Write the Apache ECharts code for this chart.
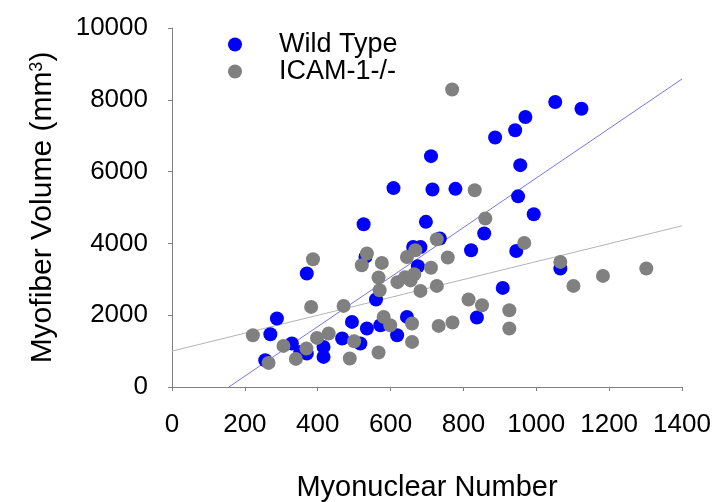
<!DOCTYPE html>
<html>
<head>
<meta charset="utf-8">
<script src="https://cdn.jsdelivr.net/npm/echarts@6/dist/echarts.min.js"></script>
<style>
  html, body { margin: 0; padding: 0; background: #fff; }
  #chart { width: 715px; height: 502px; }
</style>
</head>
<body>
<div id="chart"></div>
<script>
// values: [myonuclear number, myofiber volume]
const wildType = [
  [1052, 7940], [1124, 7750], [970, 7520], [942, 7150], [887, 6950],
  [711, 6430], [956, 6180], [608, 5540], [715, 5500], [778, 5520],
  [950, 5310], [993, 4810], [697, 4600], [526, 4535], [857, 4275],
  [735, 4135], [821, 3810], [945, 3790], [662, 3900], [682, 3900],
  [675, 3365], [531, 3624], [1066, 3300], [370, 3162], [908, 2760],
  [560, 2437], [837, 1936], [645, 1953], [288, 1908], [494, 1813],
  [572, 1721], [535, 1630], [270, 1471], [618, 1443], [467, 1351],
  [329, 1212], [517, 1212], [416, 1117], [352, 978], [370, 933],
  [416, 838], [256, 747]
];
const icamKnockout = [
  [645, 3620], [668, 3810], [711, 3320], [576, 3457], [567, 3050],
  [521, 3393], [535, 3718], [570, 2696], [619, 2920], [640, 3060],
  [655, 2970], [665, 3140], [682, 2677], [727, 2816], [757, 3607],
  [727, 4117], [831, 5482], [860, 4694], [1066, 3485], [1102, 2816],
  [1183, 3095], [1302, 3301], [814, 2437], [851, 2278], [926, 2139],
  [926, 1630], [732, 1702], [770, 1797], [659, 1769], [599, 1721],
  [581, 1953], [659, 1256], [567, 961], [488, 794], [500, 1276],
  [471, 2259], [430, 1490], [398, 1368], [369, 1072], [340, 783],
  [306, 1145], [265, 671], [222, 1443], [382, 2231], [387, 3560],
  [769, 8287], [967, 4014]
];
// regression line end points
const wildFit = [[156, 0], [1400, 8580]];
const icamFit = [[0, 1000], [1400, 4490]];

const seriesNames = ['Wild Type', 'ICAM-1-/-'];

const chart = echarts.init(document.getElementById('chart'));
const font = 'Liberation Sans, Arial, sans-serif';

const option = {
  animation: false,
  grid: { left: 172, right: 33, top: 28, bottom: 115, outerBoundsMode: 'none', containLabel: false },
  legend: {
    orient: 'vertical',
    left: 228,
    top: 31,
    padding: 0,
    itemGap: 0,
    itemWidth: 14,
    itemHeight: 14,
    icon: 'circle',
    data: seriesNames,
    textStyle: { fontFamily: font, fontSize: 27, color: '#000', padding: [0, 0, 0, 32], lineHeight: 24 }
  },
  xAxis: {
    type: 'value',
    min: 0,
    max: 1400,
    interval: 200,
    name: 'Myonuclear Number',
    nameLocation: 'middle',
    nameGap: 86,
    nameTextStyle: { fontFamily: font, fontSize: 29, color: '#000' },
    axisLine: { lineStyle: { color: '#808080', width: 1 } },
    axisTick: { length: 4, lineStyle: { color: '#808080' } },
    axisLabel: { fontFamily: font, fontSize: 26, color: '#000', margin: 25, formatter: v => String(v) },
    splitLine: { show: false }
  },
  yAxis: {
    type: 'value',
    min: 0,
    max: 10000,
    interval: 2000,
    name: 'Myofiber Volume (mm{sup|3})',
    nameLocation: 'middle',
    nameGap: 114,
    nameTextStyle: {
      fontFamily: font, fontSize: 30, color: '#000',
      rich: { sup: { fontFamily: font, fontSize: 18, color: '#000', verticalAlign: 'top', lineHeight: 30 } }
    },
    axisLine: { show: true, lineStyle: { color: '#808080', width: 1 } },
    axisTick: { show: true, length: 4, lineStyle: { color: '#808080' } },
    axisLabel: { fontFamily: font, fontSize: 26, color: '#000', margin: 24, formatter: v => String(v) },
    splitLine: { show: false }
  },
  series: [
    {
      name: 'wildFit',
      type: 'line',
      data: wildFit,
      symbol: 'none',
      lineStyle: { color: '#7575f0', width: 1 },
      z: 1
    },
    {
      name: 'icamFit',
      type: 'line',
      data: icamFit,
      symbol: 'none',
      lineStyle: { color: '#b4b4b4', width: 1 },
      z: 1
    },
    {
      name: 'Wild Type',
      type: 'scatter',
      data: wildType,
      symbolSize: 14,
      itemStyle: { color: '#0000ff', opacity: 1 },
      z: 2
    },
    {
      name: 'ICAM-1-/-',
      type: 'scatter',
      data: icamKnockout,
      symbolSize: 14,
      itemStyle: { color: '#808080', opacity: 1 },
      z: 3
    }
  ]
};
chart.setOption(option);
</script>
</body>
</html>
